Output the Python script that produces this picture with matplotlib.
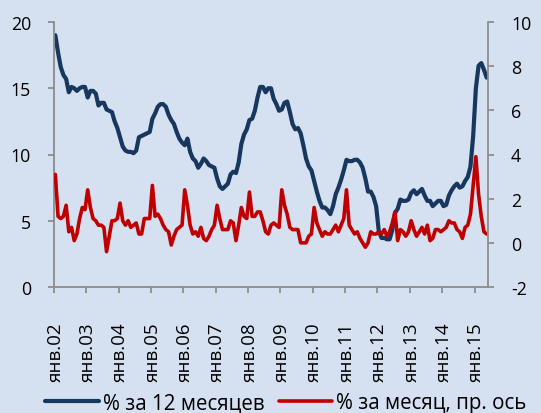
import matplotlib

matplotlib.use("Agg")
import matplotlib.pyplot as plt
import numpy as np

# CPI, Russia, Jan 2002 - May 2015 (monthly)
yoy_pct = [
    19.0, 17.7, 16.6, 16.0, 15.7, 14.7, 15.1, 15.0, 14.8, 15.0, 15.1, 15.1,  # 2002
    14.3, 14.8, 14.8, 14.6, 13.7, 13.9, 13.9, 13.4, 13.3, 13.2, 12.5, 12.0,  # 2003
    11.3, 10.6, 10.3, 10.2, 10.2, 10.1, 10.3, 11.3, 11.4, 11.5, 11.6, 11.7,  # 2004
    12.7, 13.1, 13.6, 13.8, 13.8, 13.6, 13.0, 12.6, 12.3, 11.7, 11.2, 10.9,  # 2005
    10.7, 11.2, 10.2, 9.7, 9.5, 9.0, 9.3, 9.7, 9.5, 9.2, 9.1, 9.0,  # 2006
    8.2, 7.6, 7.4, 7.6, 7.8, 8.5, 8.7, 8.6, 9.4, 10.8, 11.5, 11.9,  # 2007
    12.6, 12.7, 13.3, 14.3, 15.1, 15.1, 14.7, 15.0, 15.0, 14.2, 13.8, 13.3,  # 2008
    13.4, 13.9, 14.0, 13.2, 12.3, 11.9, 12.0, 11.6, 10.7, 9.7, 9.1, 8.8,  # 2009
    8.0, 7.2, 6.5, 6.0, 6.0, 5.8, 5.5, 6.1, 7.0, 7.5, 8.1, 8.8,  # 2010
    9.6, 9.5, 9.5, 9.6, 9.6, 9.4, 9.0, 8.2, 7.2, 7.2, 6.8, 6.1,  # 2011
    4.2, 3.7, 3.7, 3.6, 3.6, 4.3, 5.6, 5.9, 6.6, 6.5, 6.5, 6.6,  # 2012
    7.1, 7.3, 7.0, 7.2, 7.4, 6.9, 6.5, 6.5, 6.1, 6.3, 6.5, 6.5,  # 2013
    6.1, 6.2, 6.9, 7.3, 7.6, 7.8, 7.5, 7.6, 8.0, 8.3, 9.1, 11.4,  # 2014
    15.0, 16.7, 16.9, 16.4, 15.8,  # 2015
]
mom_pct = [
    3.1, 1.2, 1.1, 1.2, 1.7, 0.5, 0.7, 0.1, 0.4, 1.1, 1.6, 1.5,  # 2002
    2.4, 1.6, 1.1, 1.0, 0.8, 0.8, 0.7, -0.4, 0.3, 1.0, 1.0, 1.1,  # 2003
    1.8, 1.0, 0.8, 1.0, 0.7, 0.8, 0.9, 0.4, 0.4, 1.1, 1.1, 1.1,  # 2004
    2.6, 1.2, 1.3, 1.1, 0.8, 0.6, 0.5, -0.1, 0.3, 0.6, 0.7, 0.8,  # 2005
    2.4, 1.7, 0.8, 0.4, 0.5, 0.3, 0.7, 0.2, 0.1, 0.3, 0.6, 0.8,  # 2006
    1.7, 1.1, 0.6, 0.6, 0.6, 1.0, 0.9, 0.1, 0.8, 1.6, 1.2, 1.1,  # 2007
    2.3, 1.2, 1.2, 1.4, 1.4, 1.0, 0.5, 0.4, 0.8, 0.9, 0.8, 0.7,  # 2008
    2.4, 1.7, 1.3, 0.7, 0.6, 0.6, 0.6, 0.0, 0.0, 0.0, 0.3, 0.4,  # 2009
    1.6, 0.9, 0.6, 0.3, 0.5, 0.4, 0.4, 0.6, 0.8, 0.5, 0.8, 1.1,  # 2010
    2.4, 0.8, 0.6, 0.4, 0.5, 0.2, 0.0, -0.2, 0.0, 0.5, 0.4, 0.4,  # 2011
    0.5, 0.4, 0.6, 0.3, 0.5, 0.9, 1.4, 0.1, 0.6, 0.5, 0.3, 0.5,  # 2012
    1.0, 0.6, 0.3, 0.5, 0.7, 0.4, 0.8, 0.1, 0.2, 0.6, 0.6, 0.5,  # 2013
    0.6, 0.7, 1.0, 0.9, 0.9, 0.6, 0.5, 0.2, 0.7, 0.8, 1.3, 2.6,  # 2014
    3.9, 2.2, 1.2, 0.5, 0.4,  # 2015
]
year_labels = ["янв.%02d" % y for y in range(2, 16)]
series_names = ["% за 12 месяцев", "% за месяц, пр. ось"]

BG = "#D5E0F0"
BLUE = "#17375E"
RED = "#C00000"
GRID = "#8C8C8C"


def style_axis(ax):
    for side in ["top", "left", "right", "bottom"]:
        ax.spines[side].set_visible(False)


def main() -> None:
    plt.rcParams["font.family"] = ["Open Sans", "DejaVu Sans"]
    plt.rcParams["axes.unicode_minus"] = False
    fig = plt.figure(figsize=(5.41, 4.14), dpi=100, facecolor=BG)
    ax = fig.add_axes([54 / 541, 1 - 288 / 414, (488 - 54) / 541, (288 - 23) / 414])
    ax.set_facecolor(BG)
    ax2 = ax.twinx()

    x = np.arange(len(yoy_pct))
    ln1, = ax.plot(x, yoy_pct, color=BLUE, lw=3.0, solid_joinstyle="round", solid_capstyle="round")
    ln2, = ax2.plot(x, mom_pct, color=RED, lw=2.6, solid_joinstyle="round", solid_capstyle="round")

    ax.set_xlim(-0.5, len(yoy_pct) - 0.5)
    ax.set_ylim(0, 20)
    ax.set_yticks(range(0, 21, 5))
    ax2.set_ylim(-2, 10)
    ax2.set_yticks(range(-2, 11, 2))

    style_axis(ax)
    style_axis(ax2)
    ax.spines["left"].set_visible(True)
    ax.spines["bottom"].set_visible(True)
    ax2.spines["right"].set_visible(True)
    for sp in [ax.spines["left"], ax.spines["bottom"], ax2.spines["right"]]:
        sp.set_color(GRID)
        sp.set_linewidth(1.3)

    ax.set_xticks(np.arange(0, len(yoy_pct), 12))
    ax.set_xticklabels(year_labels, rotation=90, ha="center", va="top")
    ax.set_xticks(np.arange(-0.5, len(yoy_pct), 12), minor=True)
    ax.tick_params(axis="x", which="major", length=0, pad=25, labelsize=13.5)
    ax.tick_params(axis="x", which="minor", length=4, width=1.3, color=GRID, direction="out")
    ax.tick_params(axis="y", length=4.5, width=1.3, color=GRID, pad=12, labelsize=12.8)
    ax2.tick_params(axis="y", length=4.5, width=1.3, color=GRID, pad=12, labelsize=12.8)

    fig.legend(
        [ln1, ln2],
        series_names,
        loc="center",
        bbox_to_anchor=(286 / 541, 1 - 404 / 414),
        ncol=2,
        frameon=False,
        fontsize=14.8,
        handlelength=2.6,
        handletextpad=0.2,
        columnspacing=0.7,
        borderpad=0,
    )

    fig.savefig("out.png", dpi=100, facecolor=BG)


if __name__ == "__main__":
    main()
